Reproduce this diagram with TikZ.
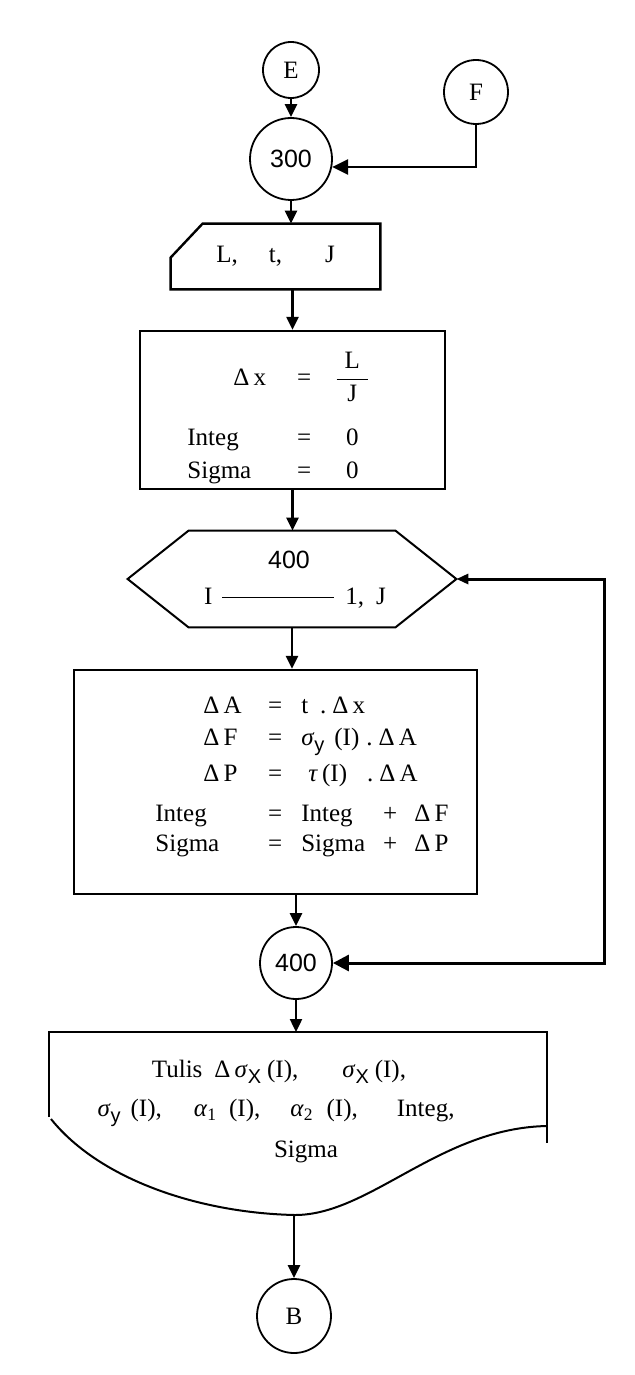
\documentclass[tikz,border=0pt]{standalone}
\usepackage{fontspec}
\setmainfont{Liberation Serif}
\setsansfont{Liberation Sans}
\usepackage{amsmath}
\usepackage{tikz}
\usetikzlibrary{arrows, arrows.meta}
\newcommand{\lowsub}[1]{\raisebox{-0.55ex}{\fontsize{10}{12}\selectfont\sffamily #1}}
\newcommand{\sgm}[1]{\textit{σ}\lowsub{#1}}
\newcommand{\dlt}{Δ\,}
\begin{document}
\begin{tikzpicture}[x=0.5pt, y=-0.5pt]
\tikzstyle{every node}+=[inner sep=0pt, font=\fontsize{12.5}{15}\selectfont]
\tikzstyle{num}=[font=\fontsize{12.5}{15}\selectfont\sffamily]
\tikzstyle{conn}=[draw, circle, line width=0.9pt]
\tikzstyle{box}=[draw, line width=1.2pt]
\tikzstyle{hexline}=[draw, line width=1pt]
\tikzstyle{link}=[line width=1.2pt, -{Triangle[length=6.5pt, width=6pt]}]
\tikzstyle{bigarrow}=[line width=1.2pt, -{Triangle[length=8pt, width=7.5pt]}]
\tikzstyle{loopline}=[line width=1.5pt, {Triangle[length=6pt, width=5pt]}-{Triangle[length=8pt, width=8pt]}]
\useasboundingbox (0,0) rectangle (635,1375);
\node (E) [conn, minimum size=28pt] at (291,70) {E};
\node (F) [conn, minimum size=32pt] at (476,92) {F};
\node (c300) [conn, num, minimum size=41pt] at (291,159) {300};
\draw [link] (E) -- (c300);
\draw [bigarrow] (F.south) |- (c300.-11);
\node (inp) [minimum width=104.5pt, minimum height=32.5pt] at (275.5,256.5) {L,\hspace{15.5pt}t,\hspace{21.5pt}J\hspace{12pt}};
\draw [box] ([shift={(32,0)}]inp.north west) -- (inp.north east) -- (inp.south east) -- (inp.south west) -- ([shift={(0,34)}]inp.north west) -- cycle;
\draw [link] (c300.south) -- (c300.south |- inp.north);
\node (calc1) [box, minimum width=152.5pt, minimum height=79pt] at (292.5,410) {};
\node (calc1txt) [anchor=base west] at (187,385) {\begin{tabular}[t]{@{}l@{}c@{}c@{}}
\hspace{23pt}\dlt x & \hspace{15.5pt}=\hspace{11.5pt} & $\dfrac{\hspace{4pt}\text{L}\hspace{4pt}}{\text{J}}$\\[15pt]
Integ & \hspace{15.5pt}=\hspace{11.5pt} & 0\\[1.5pt]
Sigma & \hspace{15.5pt}=\hspace{11.5pt} & 0
\end{tabular}};
\draw [link] (calc1.north |- inp.south) -- (calc1.north);
\node (hex) [minimum width=164pt, minimum height=48pt] at (292,579) {};
\draw [hexline] (hex.west) -- ([shift={(61,0)}]hex.north west) -- ([shift={(-61,0)}]hex.north east) -- (hex.east) -- ([shift={(-61,0)}]hex.south east) -- ([shift={(61,0)}]hex.south west) -- cycle;
\node (hexnum) [num] at (289,560) {400};
\node (hexrng) at (295,598) {I\hspace{5pt}\rule[3.2pt]{56pt}{0.6pt}\hspace{5.5pt}1,\hspace{6pt}J};
\draw [link] (calc1.south) -- (calc1.south |- hex.north);
\node (calc2) [box, minimum width=201.5pt, minimum height=112pt] at (275.5,782) {};
\node (calc2txt) [anchor=base west] at (155,713) {\begin{tabular}[t]{@{}l@{}c@{}l@{}c@{}l@{}}
\hspace{24pt}\dlt A & \hspace{13.25pt}=\hspace{9.5pt} & \multicolumn{3}{@{}l@{}}{t\hspace{6pt}.\hspace{3pt}\dlt x}\\[1pt]
\hspace{24pt}\dlt F & \hspace{13.25pt}=\hspace{9.5pt} & \multicolumn{3}{@{}l@{}}{\sgm{y}\hspace{5pt}(I)\hspace{3.5pt}.\hspace{3pt}\dlt A}\\[3pt]
\hspace{24pt}\dlt P & \hspace{13.25pt}=\hspace{9.5pt} & \multicolumn{3}{@{}l@{}}{\hspace{3.5pt}\textit{τ}\,(I)\hspace{10pt}.\hspace{3pt}\dlt A}\\[5pt]
Integ & \hspace{13.25pt}=\hspace{9.5pt} & Integ & \hspace{9pt}+\hspace{8.5pt} & \dlt F\\
Sigma & \hspace{13.25pt}=\hspace{9.5pt} & Sigma & \hspace{9pt}+\hspace{8.5pt} & \dlt P
\end{tabular}};
\draw [link] (hex.south) -- (hex.south |- calc2.north);
\node (c400) [conn, num, minimum size=36pt] at (296,963) {400};
\draw [link] (c400.north |- calc2.south) -- (c400.north);
\coordinate (loop) at (604,0);
\draw [loopline] (hex.east) -- (hex.east -| loop) -- (c400.east -| loop) -- (c400.east);
\coordinate (outtl) at (49,1032);
\coordinate (outtr) at (547,1032);
\coordinate (outbot) at (295,1215);
\draw [box] (49,1117) -- (outtl) -- (outtr) -- (547,1143);
\draw [line width=1pt] (51,1119) .. controls (100,1180) and (200,1213) .. (outbot) .. controls (370,1215) and (440,1128) .. (547,1126);
\node (out1) at (279,1072) {Tulis\hspace{6pt}\dlt\sgm{X}\hspace{3pt}(I),\hspace{22pt}\sgm{X}\hspace{3pt}(I),};
\node (out2) at (276,1113) {\sgm{y}\hspace{5pt}(I),\hspace{16pt}\textit{α}\textsubscript{1}\hspace{6pt}(I),\hspace{15pt}\textit{α}\textsubscript{2}\hspace{6.5pt}(I),\hspace{19.5pt}Integ,};
\node (out3) at (306,1152) {Sigma};
\draw [link] (c400.south) -- (c400.south |- outtl);
\node (B) [conn, minimum size=37pt] at (294,1316) {B};
\draw [link] (B.north |- outbot) -- (B.north);
\end{tikzpicture}
\end{document}
